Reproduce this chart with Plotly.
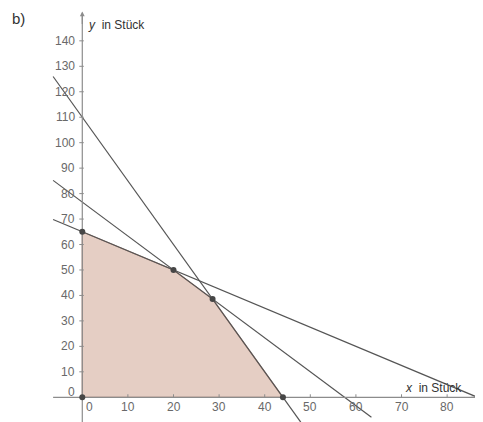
import plotly.graph_objects as go

# ---- data ----
# constraints a*x + b*y = c
con_a = [5, 4, 3]
con_b = [2, 3, 4]
con_c = [220, 230, 260]
line_x_start = [-6.4, -6.4, -6.4]
line_x_end = [47.9, 63.4, 87.6]

vertex_x = [0, 0, 20, 28.57, 44]
vertex_y = [0, 65, 50, 38.57, 0]

x_ticks = [0, 10, 20, 30, 40, 50, 60, 70, 80]
y_ticks = [0, 10, 20, 30, 40, 50, 60, 70, 80, 90, 100, 110, 120, 130, 140]

x_title = "in Stück"
y_title = "in Stück"

# ---- figure ----
W, H = 483, 422
xr = [-16.29, 89.62]
yr = [-12.85, 152.9]
px_x = (xr[1] - xr[0]) / W
px_y = (yr[1] - yr[0]) / H

fig = go.Figure()

# feasible region
fig.add_trace(go.Scatter(
    x=vertex_x + [vertex_x[0]], y=vertex_y + [vertex_y[0]],
    fill="toself", fillcolor="rgb(229,206,196)",
    line=dict(color="rgb(175,130,115)", width=1.2),
    mode="lines", hoverinfo="skip", showlegend=False))

# constraint lines
for a, b, c, x0, x1 in zip(con_a, con_b, con_c, line_x_start, line_x_end):
    fig.add_trace(go.Scatter(
        x=[x0, x1], y=[(c - a * x0) / b, (c - a * x1) / b],
        mode="lines", line=dict(color="rgb(85,85,85)", width=1.2),
        hoverinfo="skip", showlegend=False))

axis_col = "rgb(140,140,140)"
# axes
fig.add_trace(go.Scatter(x=[-6.4, 87.0], y=[0, 0], mode="lines",
                         line=dict(color=axis_col, width=1.2),
                         hoverinfo="skip", showlegend=False))
fig.add_trace(go.Scatter(x=[0, 0], y=[yr[0], 150.5], mode="lines",
                         line=dict(color=axis_col, width=1.2),
                         hoverinfo="skip", showlegend=False))
# arrowheads
fig.add_annotation(x=87.8, y=0, ax=85.0, ay=0, xref="x", yref="y",
                   axref="x", ayref="y", showarrow=True, arrowhead=2,
                   arrowsize=0.8, arrowwidth=1.2, arrowcolor=axis_col, text="")
fig.add_annotation(x=0, y=151.5, ax=0, ay=146, xref="x", yref="y",
                   axref="x", ayref="y", showarrow=True, arrowhead=2,
                   arrowsize=0.8, arrowwidth=1.2, arrowcolor=axis_col, text="")

# ticks
tx, ty = [], []
for t in x_ticks[1:]:
    tx += [t, t, None]
    ty += [0, 3 * px_y, None]
for t in y_ticks[1:]:
    tx += [-3 * px_x, 1.5 * px_x, None]
    ty += [t, t, None]
fig.add_trace(go.Scatter(x=tx, y=ty, mode="lines",
                         line=dict(color=axis_col, width=1),
                         hoverinfo="skip", showlegend=False))

lab_font = dict(family="Liberation Sans, Arial, sans-serif", size=12, color="rgb(105,105,105)")
# tick labels
for t in x_ticks:
    xx = t if t != 0 else 7.3 * px_x
    fig.add_annotation(x=xx, y=-10 * px_y, text=str(t), showarrow=False,
                       xref="x", yref="y", font=lab_font, xanchor="center", yanchor="middle")
for t in y_ticks:
    yy = t if t != 0 else 5.5 * px_y
    fig.add_annotation(x=-5 * px_x, y=yy, text=str(t), showarrow=False,
                       xref="x", yref="y", font=lab_font, xanchor="right", yanchor="middle")

# vertices
fig.add_trace(go.Scatter(x=vertex_x, y=vertex_y, mode="markers",
                         marker=dict(color="rgb(70,70,70)", size=6),
                         hoverinfo="skip", showlegend=False))

title_font = dict(family="Liberation Sans, Arial, sans-serif", size=12, color="rgb(50,50,50)")
fig.add_annotation(x=4 * px_x, y=yr[1] - 17 * px_y, xref="x", yref="y",
                   text="<i>y</i>  " + y_title, showarrow=False, font=title_font,
                   xanchor="left", yanchor="middle")
fig.add_annotation(x=70.4, y=3.6, xref="x", yref="y",
                   text="<i>x</i>  " + x_title, showarrow=False, font=title_font,
                   xanchor="left", yanchor="middle")
fig.add_annotation(x=2 / W, y=1 - 10 / H, xref="paper", yref="paper",
                   text="b)", showarrow=False,
                   font=dict(family="Liberation Sans, Arial, sans-serif", size=15, color="rgb(50,50,50)"),
                   xanchor="left", yanchor="middle")

fig.update_layout(
    width=W, height=H, margin=dict(l=0, r=0, t=0, b=0),
    paper_bgcolor="white", plot_bgcolor="white",
    xaxis=dict(range=xr, visible=False, fixedrange=True),
    yaxis=dict(range=yr, visible=False, fixedrange=True),
    showlegend=False)

fig.write_html("out.html")
